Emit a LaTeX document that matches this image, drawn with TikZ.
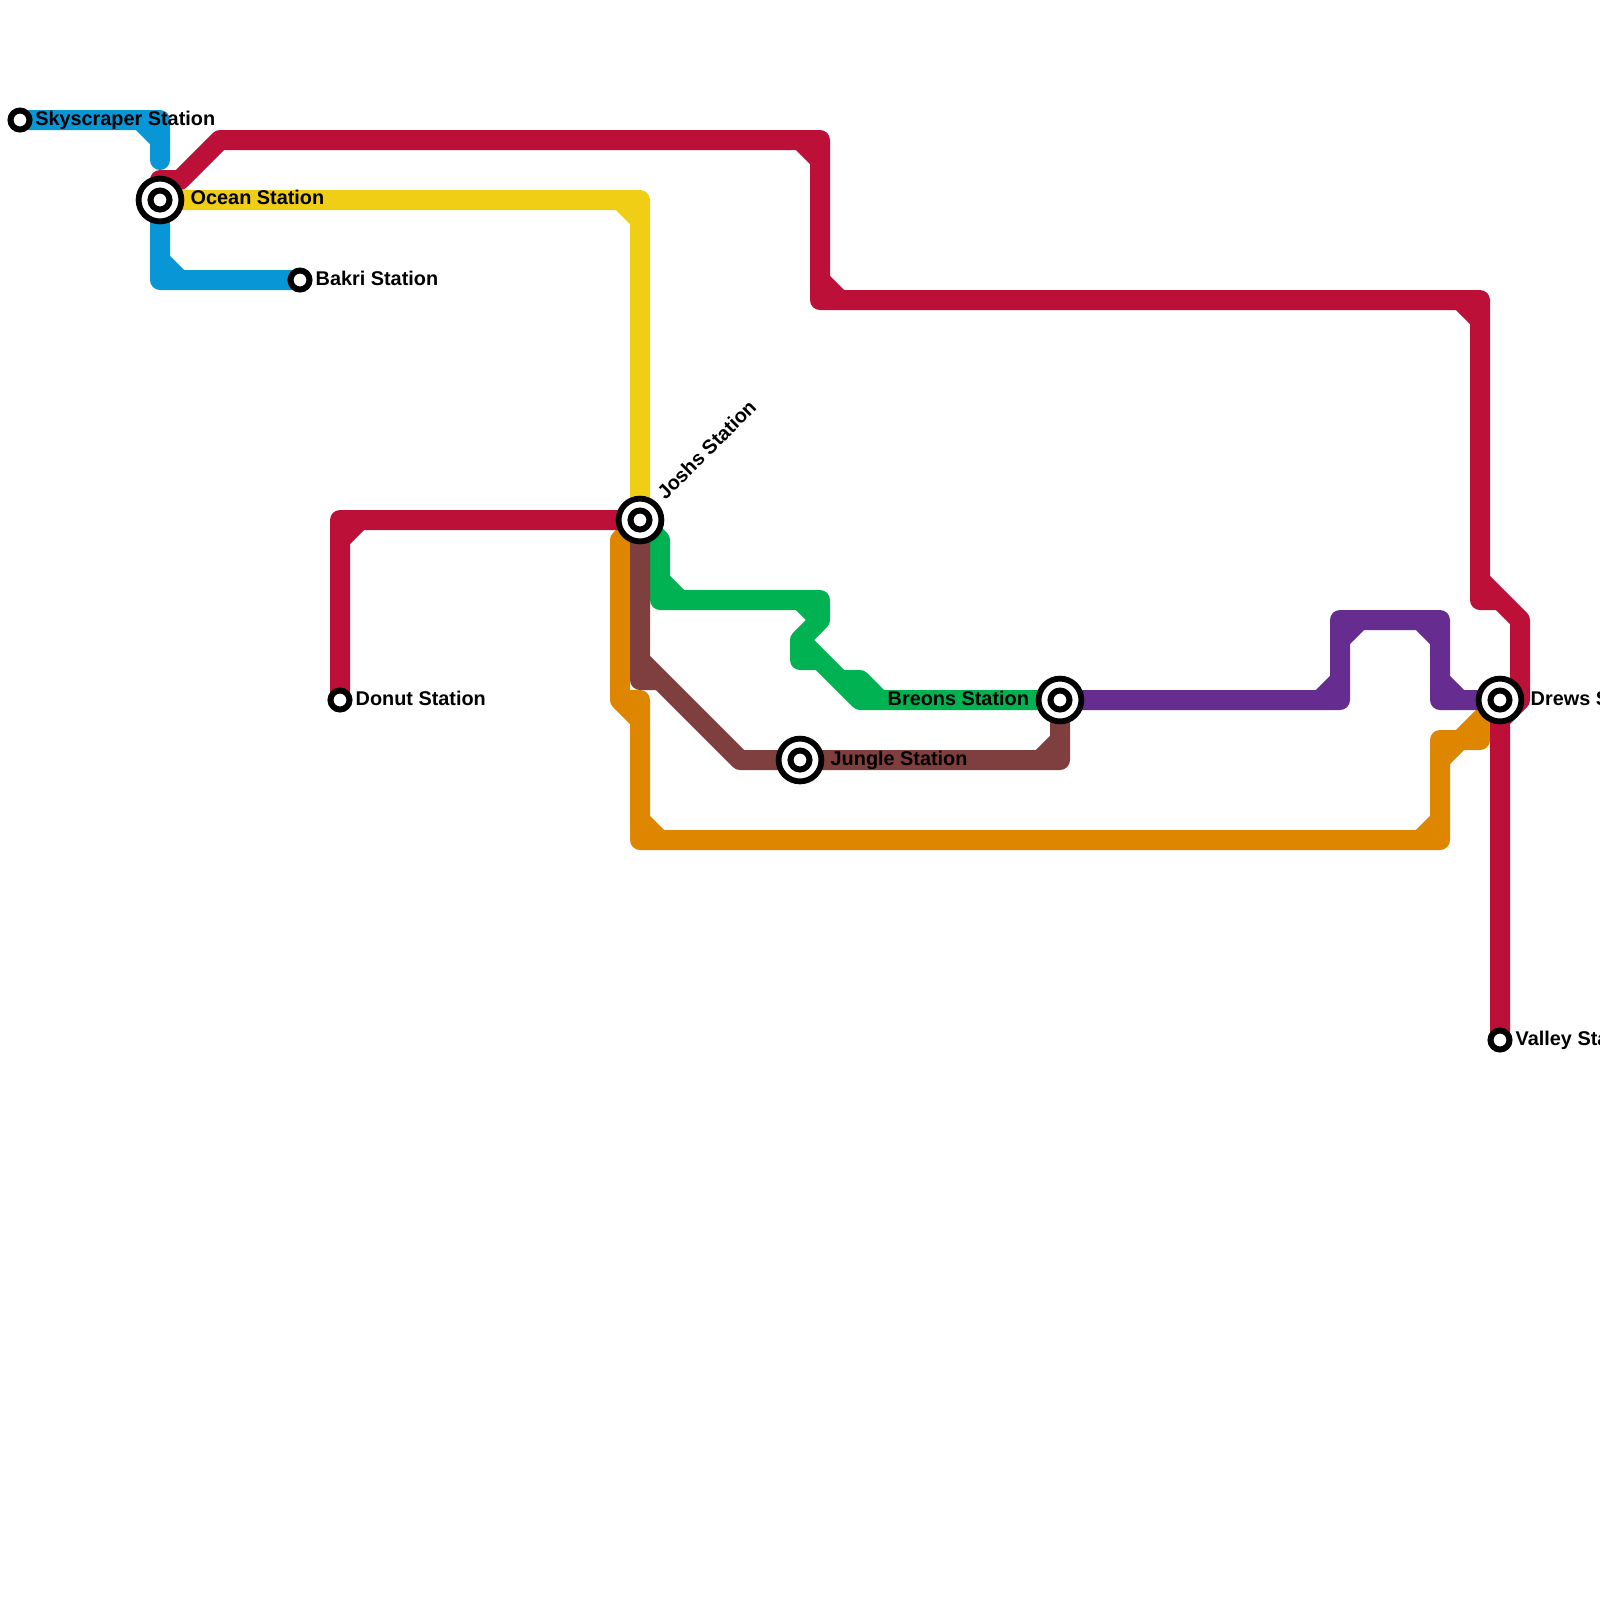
\documentclass[tikz,border=0pt]{standalone}
\usepackage{fontspec}
\setmainfont{Liberation Sans}
\definecolor{linered}{HTML}{BD1038}
\definecolor{lineblue}{HTML}{0896D7}
\definecolor{lineyellow}{HTML}{F0CE15}
\definecolor{linegreen}{HTML}{00B251}
\definecolor{lineorange}{HTML}{DF8600}
\definecolor{linebrown}{HTML}{7F3F3F}
\definecolor{linepurple}{HTML}{662C90}
\tikzset{
  metro/.style={line width=2mm, line cap=round, line join=round},
  stopdot/.style={circle, draw=black, fill=white, line width=0.6mm, minimum size=1.9mm, inner sep=0pt},
  hubring/.style={circle, draw=black, fill=white, line width=0.58mm, minimum size=4.28mm, inner sep=0pt},
  stoplabel/.style={anchor=base west, inner sep=0pt, text=black, font=\fontsize{5.65pt}{6pt}\selectfont\bfseries},
}
\begin{document}
\begin{tikzpicture}[x=0.2cm, y=-0.2cm]
    \useasboundingbox (0, 0) rectangle (80, 80);

    \coordinate (skyscraper) at (1, 6);
    \coordinate (ocean) at (8, 10);
    \coordinate (bakri) at (15, 14);
    \coordinate (joshs) at (32, 26);
    \coordinate (donut) at (17, 35);
    \coordinate (jungle) at (40, 38);
    \coordinate (breons) at (53, 35);
    \coordinate (drews) at (75, 35);
    \coordinate (valley) at (75, 52);

    \draw[metro, lineyellow] (ocean) -- (32, 10) -- (joshs) (31, 10) -- (32, 11);

    \draw[metro, lineorange] (joshs) -- (31, 27) -- (31, 35) -- (32, 35) -- (32, 42) -- (72, 42) -- (72, 37) -- (74, 37) -- (74, 36) -- (drews) -- (72, 38)
      (31, 35) -- (32, 36) (32, 41) -- (33, 42) (71, 42) -- (72, 41);

    \draw[metro, linered] (ocean) -- (8, 9) -- (9, 9) -- (11, 7) -- (41, 7) -- (41, 15) -- (74, 15) -- (74, 30) -- (75, 30) -- (76, 31) -- (76, 35) -- (75, 36) -- (valley)
      (40, 7) -- (41, 8) (41, 14) -- (42, 15) (73, 15) -- (74, 16) (74, 29) -- (75, 30);
    \draw[metro, linered] (joshs) -- (17, 26) -- (donut) (17, 27) -- (18, 26);

    \draw[metro, lineblue] (skyscraper) -- (8, 6) -- (8, 8) (7, 6) -- (8, 7);
    \draw[metro, lineblue] (ocean) -- (8, 14) -- (bakri) (8, 13) -- (9, 14);

    \draw[metro, linegreen] (joshs) -- (33, 27) -- (33, 30) -- (41, 30) -- (41, 31) -- (40, 32) -- (40, 33) -- (41, 33) -- (43, 35) -- (breons)
      (33, 29) -- (34, 30) (40, 30) -- (41, 31) (40, 32) -- (43, 35) (42, 34) -- (43, 34) -- (44, 35);

    \draw[metro, linebrown] (joshs) -- (32, 34) -- (33, 34) -- (37, 38) -- (jungle) -- (53, 38) -- (breons)
      (32, 33) -- (33, 34) (52, 38) -- (53, 37);

    \draw[metro, linepurple] (breons) -- (67, 35) -- (67, 31) -- (72, 31) -- (72, 35) -- (drews)
      (66, 35) -- (67, 34) (67, 32) -- (68, 31) (71, 31) -- (72, 32) (72, 34) -- (73, 35);

    \node[hubring] (oceanring) at (ocean) {};
    \node[hubring] (joshsring) at (joshs) {};
    \node[hubring] (junglering) at (jungle) {};
    \node[hubring] (breonsring) at (breons) {};
    \node[hubring] (drewsring) at (drews) {};

    \node[stopdot] (skyscraperstop) at (skyscraper) {};
    \node[stopdot] (oceanstop) at (ocean) {};
    \node[stopdot] (bakristop) at (bakri) {};
    \node[stopdot] (joshsstop) at (joshs) {};
    \node[stopdot] (donutstop) at (donut) {};
    \node[stopdot] (junglestop) at (jungle) {};
    \node[stopdot] (breonsstop) at (breons) {};
    \node[stopdot] (drewsstop) at (drews) {};
    \node[stopdot] (valleystop) at (valley) {};

    \node[stoplabel] (skyscraperlabel) at (1.73, 6.25) {Skyscraper Station};
    \node[stoplabel] (oceanlabel) at (9.5, 10.2) {Ocean Station};
    \node[stoplabel] (bakrilabel) at (15.75, 14.25) {Bakri Station};
    \node[stoplabel, rotate=45] (joshslabel) at (33.25, 25.05) {Joshs Station};
    \node[stoplabel] (donutlabel) at (17.75, 35.25) {Donut Station};
    \node[stoplabel] (junglelabel) at (41.5, 38.25) {Jungle Station};
    \node[stoplabel] (breonslabel) at (44.35, 35.25) {Breons Station};
    \node[stoplabel] (drewslabel) at (76.5, 35.25) {Drews Station};
    \node[stoplabel] (valleylabel) at (75.75, 52.25) {Valley Station};
  \end{tikzpicture}
\end{document}
